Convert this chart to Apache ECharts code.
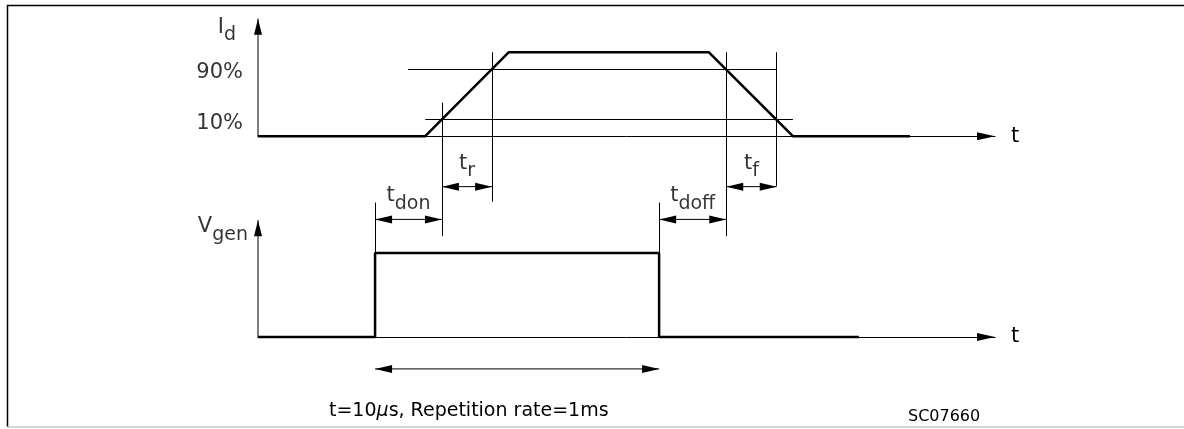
<!DOCTYPE html>
<html>
<head>
<meta charset="utf-8">
<script src="https://cdn.jsdelivr.net/npm/echarts@6/dist/echarts.min.js"></script>
<style>
    html, body { margin: 0; padding: 0; background: #fff; }
    #chart { width: 1184px; height: 429px; }
</style>
</head>
<body>
<div id="chart"></div>
<script>
// time axis in arbitrary units (gate pulse is 10 wide)
const timeMax = 26;

// drain current Id, fraction of the on-state value
const idTimes = [0, 5.9, 8.85, 15.9, 18.87, 23.0];
const idLevels = [0, 0, 1, 1, 0, 0];

// generator pulse Vgen
const vgenTimes = [0, 4.13, 4.13, 14.15, 14.15, 21.2];
const vgenLevels = [0, 0, 1, 1, 0, 0];

// 10% / 90% reference lines on Id
const refLabels = ['10%', '90%'];
const refLevels = [0.2, 0.8];
const refStart = [5.9, 5.29];
const refEnd = [18.87, 18.3];

// switching instants
const tOn = 4.13, t10Rise = 6.49, t90Rise = 8.26, tOff = 14.15, t90Fall = 16.52, t10Fall = 18.3;

// witness lines: time, top, bottom (Vgen units)
const markTimes = [tOn, t10Rise, t90Rise, tOff, t90Fall, t10Fall];
const markTop = [1.6, 2.79, 3.39, 1.6, 3.39, 3.39];
const markBottom = [1.0, 1.2, 1.61, 1.0, 1.2, 1.8];

// timing intervals
const dimNames = ['don', 'r', 'doff', 'f'];
const dimFrom = [tOn, t10Rise, tOff, t90Fall];
const dimTo = [t10Rise, t90Rise, t90Fall, t10Fall];
const dimLevel = [1.4, 1.79, 1.4, 1.79];

// pulse length arrow
const periodFrom = tOn, periodTo = tOff, periodLevel = -0.38;

// vertical extents
const vgenMin = -1, vgenMax = 3.9;
const idBase = 2.39;          // Id zero line in Vgen units
const idAxisTop = 1.4, vgenAxisTop = 1.39;

const FONT = 'DejaVu Sans';
const thin = { color: '#000', width: 1, opacity: 1 };

const rich = {
    m: { fontFamily: FONT, fontSize: 21, lineHeight: 21, color: '#000', verticalAlign: 'top' },
    s: { fontFamily: FONT, fontSize: 19, lineHeight: 28, color: '#000', verticalAlign: 'bottom' }
};

// line with filled triangle heads, drawn through the axes' scales
const arrowRenderer = (len, half) => (params, api) => {
    const a = api.coord([api.value(0), api.value(1)]);
    const b = api.coord([api.value(2), api.value(3)]);
    const d = Math.hypot(b[0] - a[0], b[1] - a[1]) || 1;
    const ux = (b[0] - a[0]) / d, uy = (b[1] - a[1]) / d;
    const head = (tip, dx, dy) => ({
        type: 'polygon',
        shape: { points: [
            tip,
            [tip[0] - dx * len - dy * half, tip[1] - dy * len + dx * half],
            [tip[0] - dx * len + dy * half, tip[1] - dy * len - dx * half]
        ] },
        style: { fill: '#000' }
    });
    const children = [{
        type: 'line',
        shape: { x1: a[0], y1: a[1], x2: b[0], y2: b[1] },
        style: { stroke: '#000', lineWidth: 1 }
    }];
    if (api.value(4)) children.push(head(a, -ux, -uy));
    if (api.value(5)) children.push(head(b, ux, uy));
    return { type: 'group', children: children };
};

const chart = echarts.init(document.getElementById('chart'));

const timeAxis = (i) => ({
    type: 'value',
    gridIndex: 0,
    min: 0,
    max: timeMax,
    position: i ? 'top' : 'bottom',
    axisLine: {
        show: true, onZero: true, onZeroAxisIndex: i,
        symbol: ['none', 'triangle'], symbolSize: [8, 18], symbolOffset: [0, -9],
        lineStyle: { color: '#000', width: 1 }
    },
    axisTick: { show: false },
    axisLabel: { show: false },
    splitLine: { show: false },
    name: 't',
    nameLocation: 'end',
    nameGap: 16,
    nameTextStyle: { fontFamily: FONT, fontSize: 21, color: '#000', padding: [0, 0, 12, 0] }
});

chart.setOption({
    animation: false,
    backgroundColor: '#fff',
    grid: { left: 258, right: 189, top: 9.4, bottom: 8 },
    xAxis: [timeAxis(0), timeAxis(1)],
    yAxis: [
        { type: 'value', min: vgenMin, max: vgenMax, show: false },
        { type: 'value', min: vgenMin - idBase, max: vgenMax - idBase, show: false }
    ],
    title: [
        {
            text: '{n|t=10}{i|μ}{n|s, Repetition rate=1ms}',
            left: 324, top: 397,
            textStyle: {
                rich: {
                    n: { fontFamily: FONT, fontSize: 19, fontWeight: 'normal', color: '#000' },
                    i: { fontFamily: FONT, fontSize: 19, fontWeight: 'normal', color: '#000', fontStyle: 'italic' }
                }
            }
        },
        {
            text: 'SC07660',
            left: 903, top: 404,
            textStyle: { fontFamily: FONT, fontSize: 16, fontWeight: 'normal', color: '#000' }
        }
    ],
    graphic: [
        { type: 'polyline', shape: { points: [[1184, 5.5], [7.5, 5.5], [7.5, 427]] }, style: { stroke: '#000', lineWidth: 1.5, fill: 'none' } },
        { type: 'line', shape: { x1: 7, y1: 427, x2: 1184, y2: 427 }, style: { stroke: '#c8c8c8', lineWidth: 1.5 } }
    ],
    series: [
        // 10% / 90% reference lines
        {
            type: 'lines', coordinateSystem: 'cartesian2d', xAxisIndex: 0, yAxisIndex: 1,
            symbol: 'none', silent: true, lineStyle: thin,
            data: refLevels.map((l, i) => ({ coords: [[refStart[i], l], [refEnd[i], l]] }))
        },
        // witness lines
        {
            type: 'lines', coordinateSystem: 'cartesian2d', xAxisIndex: 0, yAxisIndex: 0,
            symbol: 'none', silent: true, lineStyle: thin,
            data: markTimes.map((t, i) => ({ coords: [[t, markTop[i]], [t, markBottom[i]]] }))
        },
        // dimension arrows
        {
            type: 'custom', xAxisIndex: 0, yAxisIndex: 0, silent: true, clip: false,
            renderItem: arrowRenderer(17, 4),
            data: dimFrom.map((f, i) => [f, dimLevel[i], dimTo[i], dimLevel[i], 1, 1])
                .concat([[periodFrom, periodLevel, periodTo, periodLevel, 1, 1]])
        },
        // vertical axes
        {
            type: 'custom', xAxisIndex: 0, yAxisIndex: 0, silent: true, clip: false,
            renderItem: arrowRenderer(16, 4),
            data: [
                [0, idBase, 0, idBase + idAxisTop, 0, 1],
                [0, 0, 0, vgenAxisTop, 0, 1]
            ]
        },
        // waveforms
        {
            type: 'line', name: 'Id', xAxisIndex: 0, yAxisIndex: 1, z: 5,
            symbol: 'none', silent: true,
            lineStyle: { color: '#000', width: 2.5 },
            data: idTimes.map((t, i) => [t, idLevels[i]])
        },
        {
            type: 'line', name: 'Vgen', xAxisIndex: 0, yAxisIndex: 0, z: 5,
            symbol: 'none', silent: true,
            lineStyle: { color: '#000', width: 2.5 },
            data: vgenTimes.map((t, i) => [t, vgenLevels[i]])
        },
        // interval labels
        {
            type: 'scatter', xAxisIndex: 0, yAxisIndex: 0, symbolSize: 0, clip: false, silent: true,
            label: { show: true, position: 'top', distance: 6, rich: rich },
            data: dimNames.map((n, i) => ({
                value: [(dimFrom[i] + dimTo[i]) / 2, dimLevel[i]],
                label: { formatter: '{m|t}{s|' + n + '}' }
            }))
        },
        // Id axis labels
        {
            type: 'scatter', xAxisIndex: 0, yAxisIndex: 1, symbolSize: 0, clip: false, silent: true,
            label: { show: true, position: 'left', rich: rich },
            data: refLabels.map((l, i) => ({
                value: [0, refLevels[i]],
                label: { formatter: '{m|' + l + '}', distance: 15, offset: [0, 4] }
            })).concat([{
                value: [0, idAxisTop],
                label: { formatter: '{m|I}{s|d}', distance: 22, offset: [0, 12] }
            }])
        },
        // Vgen axis label
        {
            type: 'scatter', xAxisIndex: 0, yAxisIndex: 0, symbolSize: 0, clip: false, silent: true,
            label: { show: true, position: 'left', distance: 10, offset: [0, 10], rich: rich, formatter: '{m|V}{s|gen}' },
            data: [[0, vgenAxisTop]]
        }
    ]
});
</script>
</body>
</html>
